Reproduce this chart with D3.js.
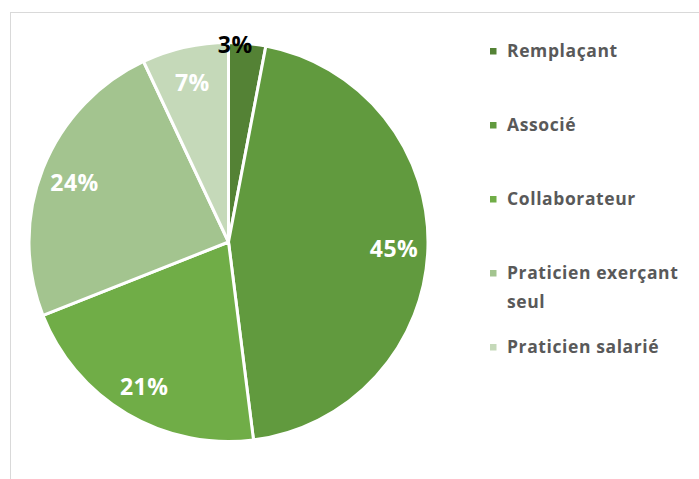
<!DOCTYPE html>
<html>
<head>
<meta charset="utf-8">
<script src="https://cdn.jsdelivr.net/npm/d3@7/dist/d3.min.js"></script>
<style>
  body { margin: 0; background: #fff; }
  svg { display: block; }
</style>
</head>
<body>
<svg id="chart" width="699" height="479"></svg>
<script>
const categories = ['Remplaçant', 'Associé', 'Collaborateur', 'Praticien exerçant seul', 'Praticien salarié'];
const values = [3, 45, 21, 24, 7];
const colors = ['#548235', '#619a3e', '#70ad47', '#a3c48f', '#c5d9b9'];
// legend text lines (wrapping as in the original)
const legendLines = [['Remplaçant'], ['Associé'], ['Collaborateur'], ['Praticien exerçant', 'seul'], ['Praticien salarié']];

const FONT = '"Open Sans", sans-serif';
const LEGEND_FILL = '#595959';

const svg = d3.select('#chart');

// chart area border (only top and left visible)
svg.append('rect')
  .attr('x', 10.5)
  .attr('y', 12.5)
  .attr('width', 720)
  .attr('height', 500)
  .attr('fill', 'none')
  .attr('stroke', '#d9d9d9')
  .attr('stroke-width', 1);

const cx = 228.5, cy = 242, radius = 199.5;

const data = categories.map((c, i) => ({ name: c, value: values[i], color: colors[i] }));

const pie = d3.pie().sort(null).value(d => d.value);
const arcs = pie(data);

const arc = d3.arc().innerRadius(0).outerRadius(radius);
const labelArc = d3.arc().innerRadius(radius * 0.83).outerRadius(radius * 0.83);

const g = svg.append('g').attr('transform', `translate(${cx},${cy})`);

g.selectAll('path')
  .data(arcs)
  .enter()
  .append('path')
  .attr('d', arc)
  .attr('fill', d => d.data.color)
  .attr('stroke', '#fff')
  .attr('stroke-width', 3)
  .attr('stroke-linejoin', 'round');

const total = d3.sum(values);

g.selectAll('.pct')
  .data(arcs)
  .enter()
  .append('text')
  .attr('class', 'pct')
  .attr('transform', d => {
    const small = d.data.value / total < 0.05;
    if (small) {
      // best fit: pushed out to the rim
      const a = (d.startAngle + d.endAngle) / 2;
      return `translate(${Math.sin(a) * radius - 12},${-Math.cos(a) * radius + 1})`;
    }
    const [x, y] = labelArc.centroid(d);
    return `translate(${x},${y + 2})`;
  })
  .attr('text-anchor', 'middle')
  .attr('dy', '0.36em')
  .attr('font-family', FONT)
  .attr('font-weight', 'bold')
  .attr('font-size', '23px')
  .attr('letter-spacing', '0.5px')
  .attr('fill', d => d.data.value / total < 0.05 ? '#000' : '#fff')
  .text(d => Math.round(d.data.value / total * 100) + '%');

// legend
const legendY = d3.scalePoint().domain(categories).range([51, 347]);
const legend = svg.append('g');

const item = legend.selectAll('.item')
  .data(data)
  .enter()
  .append('g')
  .attr('class', 'item');

item.append('rect')
  .attr('x', 490)
  .attr('y', d => legendY(d.name) - 3)
  .attr('width', 6.5)
  .attr('height', 6.5)
  .attr('fill', d => d.color);

item.append('text')
  .attr('x', 507)
  .attr('y', d => legendY(d.name))
  .attr('font-family', FONT)
  .attr('font-weight', 'bold')
  .attr('font-size', '17.5px')
  .attr('letter-spacing', '0.6px')
  .attr('fill', LEGEND_FILL)
  .each(function(d, i) {
    const lines = legendLines[i];
    const t = d3.select(this);
    lines.forEach((line, j) => {
      t.append('tspan')
        .attr('x', 507)
        .attr('dy', j === 0 ? '0.36em' : '29px')
        .text(line);
    });
  });
</script>
</body>
</html>
